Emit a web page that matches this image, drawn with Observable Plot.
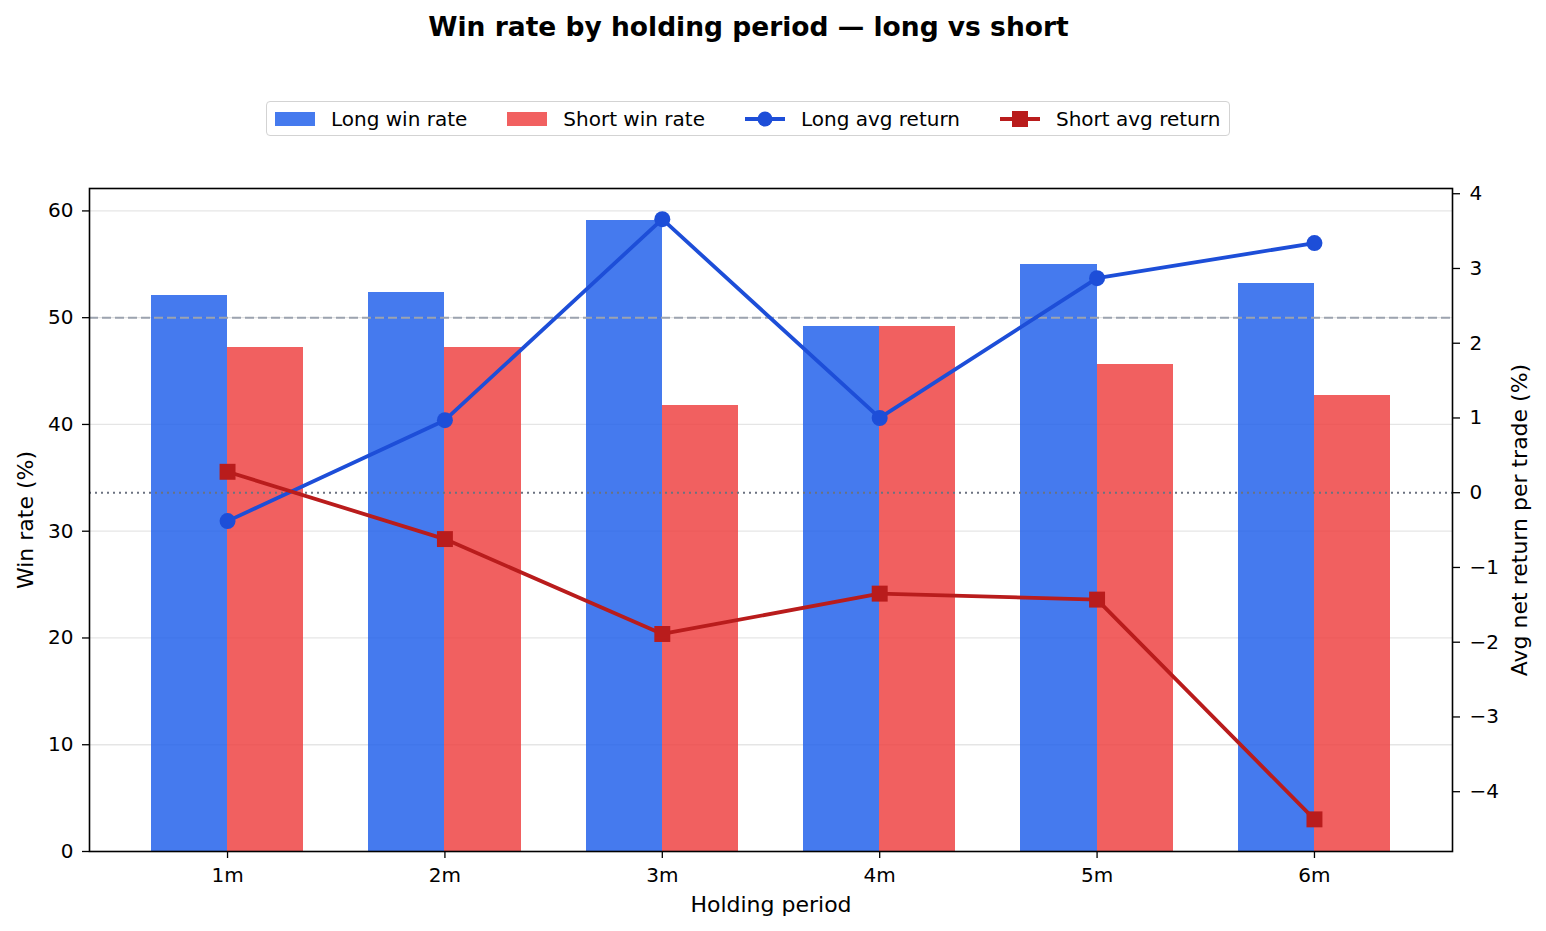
<!DOCTYPE html>
<html>
<head>
<meta charset="utf-8">
<script src="https://cdn.jsdelivr.net/npm/d3@7"></script>
<script src="https://cdn.jsdelivr.net/npm/@observablehq/plot@0.6"></script>
<style>
  body { margin: 0; background: #fff; font-family: "DejaVu Sans", sans-serif; }
  #wrap { position: relative; width: 1546px; height: 931px; }
  #wrap > svg { position: absolute; left: 0; top: 0; }
  #title { position: absolute; left: 0; top: 12px; width: 1497px; text-align: center;
           font-weight: bold; font-size: 26.5px; line-height: 30px; color: #000; }
  #legend { position: absolute; left: 266px; top: 101px; width: 964px; height: 35px;
            box-sizing: border-box; border: 1.3px solid #d3d3d3; border-radius: 4px;
            display: flex; align-items: center; padding: 0 8px; font-size: 20px; color: #000; background: #fff; }
  .item { display: flex; align-items: center; }
  .item + .item { margin-left: 40px; }
  .item svg { display: block; margin-right: 16px; }
</style>
</head>
<body>
<div id="wrap">
  <div id="title">Win rate by holding period — long vs short</div>
  <div id="legend"></div>
</div>
<script>
// Holding periods and per-period statistics
const periods = ["1m", "2m", "3m", "4m", "5m", "6m"];
const longWin = [52.1, 52.4, 59.1, 49.2, 55.0, 53.2];   // %
const shortWin = [47.2, 47.2, 41.8, 49.2, 45.6, 42.7];  // %
const longRet = [-0.38, 0.97, 3.66, 1.00, 2.87, 3.34];  // avg net return per trade, %
const shortRet = [0.28, -0.62, -1.89, -1.35, -1.43, -4.37];
const leftTicks = [0, 10, 20, 30, 40, 50, 60];
const rightTicks = [-4, -3, -2, -1, 0, 1, 2, 3, 4];

const colors = {
  longBar: "#2563eb", shortBar: "#ef4444",
  longLine: "#1d4ed8", shortLine: "#b91c1c"
};

// Left axis spans win rate; right axis values are mapped onto it linearly
const lMax = 62.1, rMin = -4.80, rMax = 4.07;
const toL = v => (v - rMin) / (rMax - rMin) * lMax;
const fromL = y => y / lMax * (rMax - rMin) + rMin;
const fmt = d3.format("d");

const rows = periods.map((p, i) => ({
  i, p, longWin: longWin[i], shortWin: shortWin[i],
  longRet: toL(longRet[i]), shortRet: toL(shortRet[i])
}));

const chart = Plot.plot({
  width: 1546,
  height: 931,
  marginLeft: 89,
  marginRight: 94,
  marginTop: 188,
  marginBottom: 80,
  style: { fontFamily: "DejaVu Sans", fontSize: "20px", color: "#000", background: "transparent" },
  x: { type: "linear", domain: [-0.635, 5.635] },
  y: { domain: [0, lMax] },
  marks: [
    Plot.gridY(leftTicks.slice(1), { stroke: "#000", strokeOpacity: 0.1, strokeWidth: 1.3 }),
    Plot.rect(rows, { x1: d => d.i - 0.35, x2: d => d.i, y1: 0, y2: "longWin", fill: colors.longBar, fillOpacity: 0.85, shapeRendering: "crispEdges" }),
    Plot.rect(rows, { x1: d => d.i, x2: d => d.i + 0.35, y1: 0, y2: "shortWin", fill: colors.shortBar, fillOpacity: 0.85, shapeRendering: "crispEdges" }),
    Plot.ruleY([50], { stroke: "#9ca3af", strokeWidth: 2, strokeDasharray: "9,4" }),
    Plot.ruleY([toL(0)], { stroke: "#6b7280", strokeWidth: 2, strokeDasharray: "2,4" }),
    Plot.line(rows, { x: "i", y: "longRet", stroke: colors.longLine, strokeWidth: 3.8 }),
    Plot.dot(rows, { x: "i", y: "longRet", r: 8, fill: colors.longLine, stroke: "none" }),
    Plot.line(rows, { x: "i", y: "shortRet", stroke: colors.shortLine, strokeWidth: 3.8 }),
    Plot.dot(rows, { x: "i", y: "shortRet", symbol: "square", r: 9, fill: colors.shortLine, stroke: "none" }),
    Plot.axisX({ ticks: d3.range(periods.length), tickFormat: i => periods[i], tickSize: 7, tickPadding: 9, label: null, strokeWidth: 1.3 }),
    Plot.axisY({ anchor: "left", ticks: leftTicks, tickFormat: fmt, tickSize: 7, tickPadding: 9, label: null, strokeWidth: 1.3 }),
    Plot.axisY({ anchor: "right", ticks: rightTicks.map(toL), tickFormat: y => fmt(Math.round(fromL(y))), tickSize: 7, tickPadding: 10, label: null, strokeWidth: 1.3 }),
    Plot.frame({ stroke: "#000", strokeWidth: 1.6 }),
    Plot.text(["Win rate (%)"], { text: d => d, frameAnchor: "left", textAnchor: "middle", dx: -64, rotate: -90, fontSize: 22 }),
    Plot.text(["Avg net return per trade (%)"], { text: d => d, frameAnchor: "right", textAnchor: "middle", dx: 67, rotate: -90, fontSize: 22 }),
    Plot.text(["Holding period"], { text: d => d, frameAnchor: "bottom", dy: 60, fontSize: 22 })
  ]
});
document.getElementById("wrap").prepend(chart);

// Legend
const legendItems = [
  { label: "Long win rate", kind: "bar", color: colors.longBar },
  { label: "Short win rate", kind: "bar", color: colors.shortBar },
  { label: "Long avg return", kind: "circle", color: colors.longLine },
  { label: "Short avg return", kind: "square", color: colors.shortLine }
];
const legend = d3.select("#legend");
for (const it of legendItems) {
  const item = legend.append("div").attr("class", "item");
  const sw = item.append("svg").attr("width", 40).attr("height", 20);
  if (it.kind === "bar") {
    sw.append("rect").attr("x", 0).attr("y", 3).attr("width", 40).attr("height", 14)
      .attr("fill", it.color).attr("fill-opacity", 0.85);
  } else {
    sw.append("line").attr("x1", 0).attr("x2", 40).attr("y1", 10).attr("y2", 10)
      .attr("stroke", it.color).attr("stroke-width", 3.8);
    if (it.kind === "circle") sw.append("circle").attr("cx", 20).attr("cy", 10).attr("r", 7.5).attr("fill", it.color);
    else sw.append("rect").attr("x", 12).attr("y", 2).attr("width", 16).attr("height", 16).attr("fill", it.color);
  }
  item.append("span").text(it.label);
}
</script>
</body>
</html>
